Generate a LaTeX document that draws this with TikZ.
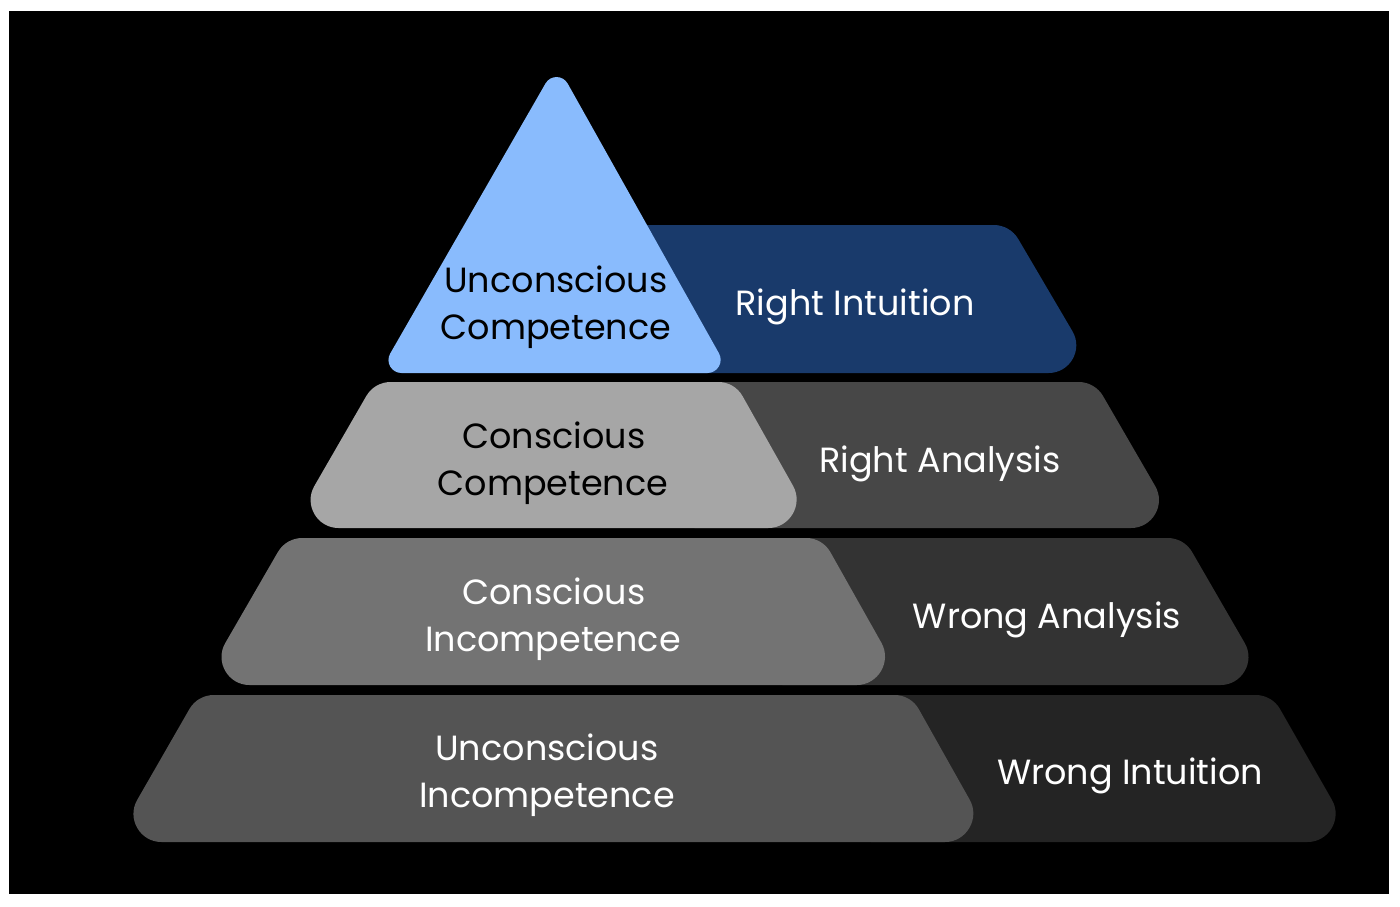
\documentclass[tikz,border=0pt]{standalone}
\usepackage{fontspec}
\setmainfont{Poppins}
\usetikzlibrary{calc}
\definecolor{triblue}{HTML}{89BBFD}
\definecolor{navy}{HTML}{193A6B}
\definecolor{gA}{HTML}{A6A6A6}
\definecolor{gAd}{HTML}{474747}
\definecolor{gB}{HTML}{737373}
\definecolor{gBd}{HTML}{333333}
\definecolor{gC}{HTML}{545454}
\definecolor{gCd}{HTML}{242424}
\def\tlA{48.5pt}\def\clA{27pt}\def\tlB{16.2pt}\def\clB{6.2pt}
\def\ttA{22.5pt}\def\ctA{12.5pt}
% left piece: color, BL, TL, TR, BR (bottom corners 60deg, top corners 120deg)
\newcommand\leftpiece[5]{%
\fill[#1] ($(#2)!\tlA!(#5)$) .. controls ($(#2)!\clA!(#5)$) and ($(#2)!\clA!(#3)$) .. ($(#2)!\tlA!(#3)$)
 -- ($(#3)!\tlB!(#2)$) .. controls ($(#3)!\clB!(#2)$) and ($(#3)!\clB!(#4)$) .. ($(#3)!\tlB!(#4)$)
 -- ($(#4)!\tlB!(#3)$) .. controls ($(#4)!\clB!(#3)$) and ($(#4)!\clB!(#5)$) .. ($(#4)!\tlB!(#5)$)
 -- ($(#5)!\tlA!(#4)$) .. controls ($(#5)!\clA!(#4)$) and ($(#5)!\clA!(#2)$) .. ($(#5)!\tlA!(#2)$)
 -- cycle;}
% right piece: left corners hidden (sharp)
\newcommand\rightpiece[5]{%
\fill[#1] (#2) -- (#3)
 -- ($(#4)!\tlB!(#3)$) .. controls ($(#4)!\clB!(#3)$) and ($(#4)!\clB!(#5)$) .. ($(#4)!\tlB!(#5)$)
 -- ($(#5)!\tlA!(#4)$) .. controls ($(#5)!\clA!(#4)$) and ($(#5)!\clA!(#2)$) .. ($(#5)!\tlA!(#2)$)
 -- cycle;}
\tikzset{
  lbl/.style={anchor=base, inner sep=0pt, font=\fontsize{35}{42}\selectfont},
  lightlbl/.style={lbl, text=white},
  darklbl/.style={lbl, text=black}
}
\begin{document}
\begin{tikzpicture}[x=1pt,y=-1pt]
\useasboundingbox (0,0) rectangle (1400,906);
\fill[white] (0,0) rectangle (1400,906);
\fill[black] (9,11) rectangle (1389,894);
% coordinates
\coordinate (aBL) at (600,373);   \coordinate (aTL) at (600,225);
\coordinate (aTR) at (1010,225); \coordinate (aBR) at (1097,373);
\coordinate (bBL) at (290.1,528); \coordinate (bTL) at (374.4,382);
\coordinate (bTR) at (734.6,382); \coordinate (bBR) at (816.8,528);
\coordinate (bBLr) at (694.6,528); \coordinate (bTLr) at (694.6,382);
\coordinate (bTRr) at (1094.9,382); \coordinate (bBRr) at (1179.5,528);
\coordinate (cBL) at (201,685); \coordinate (cTL) at (286,538);
\coordinate (cTR) at (822.4,538); \coordinate (cBR) at (905.2,685);
\coordinate (cBLr) at (782.4,685); \coordinate (cTLr) at (782.4,538);
\coordinate (cTRr) at (1184,538); \coordinate (cBRr) at (1269,685);
\coordinate (dBL) at (113,842); \coordinate (dTL) at (197.5,695);
\coordinate (dTR) at (910.8,695); \coordinate (dBR) at (993.5,842);
\coordinate (dBLr) at (870.8,842); \coordinate (dTLr) at (870.8,695);
\coordinate (dTRr) at (1272,695); \coordinate (dBRr) at (1356,842);
\coordinate (tA) at (556.7,64); \coordinate (tL) at (379,373); \coordinate (tR) at (730,373);
% right pieces
\rightpiece{navy}{aBL}{aTL}{aTR}{aBR}
\rightpiece{gAd}{bBLr}{bTLr}{bTRr}{bBRr}
\rightpiece{gBd}{cBLr}{cTLr}{cTRr}{cBRr}
\rightpiece{gCd}{dBLr}{dTLr}{dTRr}{dBRr}
% left pieces
\leftpiece{gA}{bBL}{bTL}{bTR}{bBR}
\leftpiece{gB}{cBL}{cTL}{cTR}{cBR}
\leftpiece{gC}{dBL}{dTL}{dTR}{dBR}
% triangle
\fill[triblue] ($(tA)!\ttA!(tL)$) -- ($(tL)!\ttA!(tA)$) .. controls ($(tL)!\ctA!(tA)$) and ($(tL)!\ctA!(tR)$) .. ($(tL)!\ttA!(tR)$)
 -- ($(tR)!\ttA!(tL)$) .. controls ($(tR)!\ctA!(tL)$) and ($(tR)!\ctA!(tA)$) .. ($(tR)!\ttA!(tA)$)
 -- ($(tA)!\ttA!(tR)$) .. controls ($(tA)!\ctA!(tR)$) and ($(tA)!\ctA!(tL)$) .. cycle;
% labels
\node[darklbl] (uc1) at (556,292) {Unconscious};
\node[darklbl] (uc2) at (556,339) {Competence};
\node[lightlbl] (ri) at (855,315) {Right Intuition};
\node[darklbl] (cc1) at (554,448) {Conscious};
\node[darklbl] (cc2) at (553,495) {Competence};
\node[lightlbl] (ra) at (940,472) {Right Analysis};
\node[lightlbl] (ci1) at (554,604) {Conscious};
\node[lightlbl] (ci2) at (553,651) {Incompetence};
\node[lightlbl] (wa) at (1047,628) {Wrong Analysis};
\node[lightlbl] (ui1) at (547,760) {Unconscious};
\node[lightlbl] (ui2) at (547,807) {Incompetence};
\node[lightlbl] (wi) at (1130,784) {Wrong Intuition};
\end{tikzpicture}
\end{document}
